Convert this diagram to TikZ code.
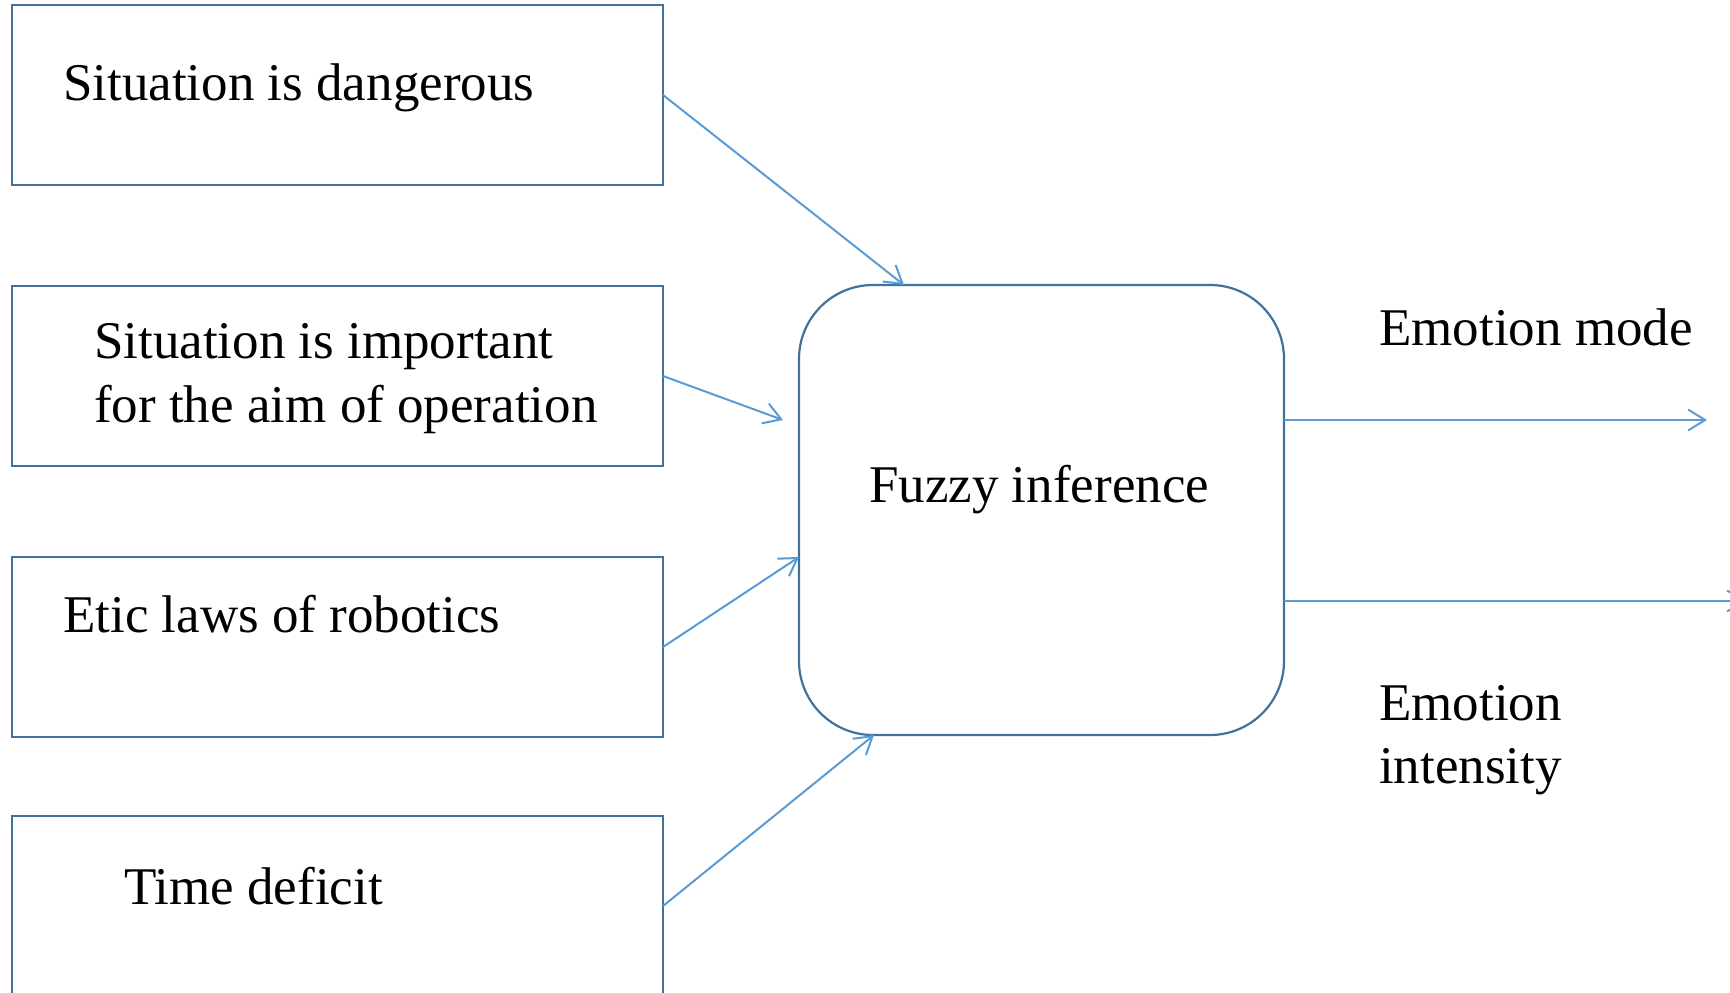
\documentclass[tikz,border=0pt]{standalone}
\usepackage{fontspec}
\setmainfont{Liberation Serif}
\usetikzlibrary{arrows.meta}
\definecolor{boxline}{HTML}{41719C}
\definecolor{linkline}{HTML}{5B9BD5}
\tikzset{
  inbox/.style={draw=boxline, line width=2.2pt, rectangle, inner sep=0pt, outer sep=0pt,
    minimum width=651pt, minimum height=180pt, anchor=north west},
  fuzzybox/.style={draw=boxline, line width=2.2pt, rectangle, rounded corners=74pt,
    inner sep=0pt, outer sep=0pt, minimum width=485pt, minimum height=450pt, anchor=north west},
  label/.style={font=\fontsize{53}{63}\selectfont, inner sep=0pt, anchor=base west},
  link/.style={draw=linkline, line width=2pt, -{Straight Barb[length=17pt,width=21pt]}}
}
\begin{document}
\begin{tikzpicture}[x=1pt, y=-1pt]
  \useasboundingbox (0,0) rectangle (1730,993);
  \clip (0,0) rectangle (1730,993);

  % input boxes
  \node[inbox] (b1) at (12,5) {};
  \node[inbox] (b2) at (12,286) {};
  \node[inbox] (b3) at (12,557) {};
  \node[inbox] (b4) at (12,816) {};

  % input texts
  \node[label] (t1) at (63,100) {Situation is dangerous};
  \node[label] (t2a) at (94,358) {Situation is important};
  \node[label] (t2b) at (94,422) {for the aim of operation};
  \node[label] (t3) at (63,632) {Etic laws of robotics};
  \node[label] (t4) at (124,904) {Time deficit};

  % inference block
  \node[fuzzybox] (f) at (799,285) {};
  \node[label] (ft) at (869,502) {Fuzzy inference};

  % arrow targets on the inference block
  \coordinate (e1) at (904,285);
  \coordinate (e2) at (783,420);
  \coordinate (e3) at (799,557);
  \coordinate (e4) at (874,735);

  \draw[link] (b1.east) -- (e1);
  \draw[link] (b2.east) -- (e2);
  \draw[link] (b3.east) -- (e3);
  \draw[link] (b4.east) -- (e4);

  % outputs
  \coordinate (o1s) at (f.east |- 0,420);
  \coordinate (o1e) at (1707,420);
  \coordinate (o2s) at (f.east |- 0,601);
  \coordinate (o2e) at (1746,601);
  \draw[link] (o1s) -- (o1e);
  \draw[link] (o2s) -- (o2e);

  \node[label] (m1) at (1379,345) {Emotion mode};
  \node[label] (m2a) at (1379,720) {Emotion};
  \node[label] (m2b) at (1379,783) {intensity};
\end{tikzpicture}
\end{document}
